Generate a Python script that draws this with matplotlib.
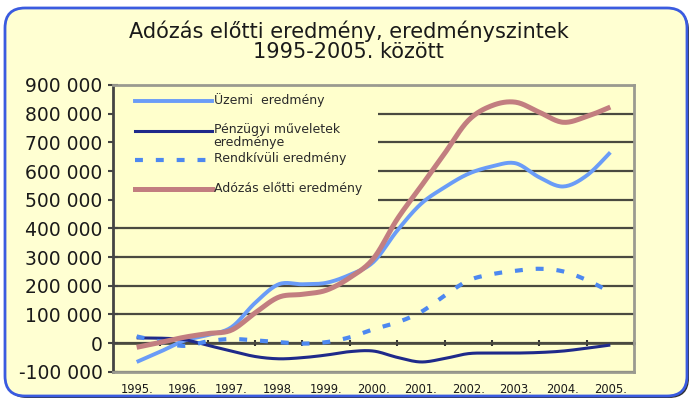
import numpy as np
import matplotlib
matplotlib.use("Agg")
import matplotlib.pyplot as plt
from matplotlib.patches import FancyBboxPatch, Rectangle
from matplotlib.lines import Line2D

# half-year readings, 1995 .. 2005
time = [1995.0, 1995.5, 1996.0, 1996.5, 1997.0, 1997.5, 1998.0, 1998.5, 1999.0, 1999.5, 2000.0,
        2000.5, 2001.0, 2001.5, 2002.0, 2002.5, 2003.0, 2003.5, 2004.0, 2004.5, 2005.0]
uzemi = [-66000, -30000, 8000, 28000, 55000, 140000, 205000, 205000, 210000, 238000, 283000,
         392000, 485000, 543000, 590000, 616000, 627000, 578000, 546000, 584000, 665000]
penzugyi = [18000, 17000, 12000, -8000, -28000, -47000, -55000, -51000, -42000, -30000, -28000,
            -50000, -66000, -54000, -37000, -35000, -35000, -33000, -28000, -18000, -7000]
rendkivuli = [23000, 5000, -10000, 6000, 14000, 9000, 3000, -2000, 3000, 20000, 48000,
              72000, 108000, 165000, 218000, 240000, 252000, 259000, 250000, 220000, 178000]
adozas = [-15000, 2000, 20000, 33000, 45000, 105000, 160000, 170000, 184000, 228000, 295000,
          432000, 546000, 661000, 776000, 828000, 840000, 805000, 770000, 790000, 823000]

years = [1995, 1996, 1997, 1998, 1999, 2000, 2001, 2002, 2003, 2004, 2005]
year_labels = ["1995.", "1996.", "1997.", "1998.", "1999.", "2000.", "2001.", "2002.", "2003.", "2004.", "2005."]
y_ticks = [-100000, 0, 100000, 200000, 300000, 400000, 500000, 600000, 700000, 800000, 900000]
y_labels = ["-100 000", "0", "100 000", "200 000", "300 000", "400 000", "500 000",
            "600 000", "700 000", "800 000", "900 000"]

labels = ["Üzemi  eredmény", "Pénzügyi műveletek\neredménye", "Rendkívüli eredmény", "Adózás előtti eredmény"]


def smooth(xs, ys, n=16):
    # catmull-rom curve, like the smoothed lines in excel
    xs = np.asarray(xs, float)
    ys = np.asarray(ys, float)
    px = np.concatenate([[xs[0]], xs, [xs[-1]]])
    py = np.concatenate([[ys[0]], ys, [ys[-1]]])
    t = np.linspace(0, 1, n, endpoint=False)
    out_x, out_y = [], []
    for i in range(1, len(px) - 2):
        for p, out in ((px, out_x), (py, out_y)):
            p0, p1, p2, p3 = p[i - 1], p[i], p[i + 1], p[i + 2]
            out.extend(0.5 * (2 * p1 + (-p0 + p2) * t + (2 * p0 - 5 * p1 + 4 * p2 - p3) * t ** 2
                              + (-p0 + 3 * p1 - 3 * p2 + p3) * t ** 3))
    out_x.append(xs[-1])
    out_y.append(ys[-1])
    return out_x, out_y


fig = plt.figure(figsize=(6.9, 4.01), dpi=100)
fig.patch.set_facecolor("white")

shadow = FancyBboxPatch((0.07, 0.03), 6.82, 3.88, boxstyle="round,pad=0,rounding_size=0.2",
                        transform=fig.dpi_scale_trans, facecolor="#303030", edgecolor="none", zorder=-2)
box = FancyBboxPatch((0.05, 0.05), 6.82, 3.88, boxstyle="round,pad=0,rounding_size=0.2",
                     transform=fig.dpi_scale_trans, facecolor="#FFFFD2", edgecolor="#3A5BE0", lw=2, zorder=-1)
fig.patches.extend([shadow, box])

fig.text(0.505, 1 - 31.7 / 401, "Adózás előtti eredmény, eredményszintek", ha="center", va="center",
         fontsize=15, color="#1a1a1a")
fig.text(0.505, 1 - 52.5 / 401, "1995-2005. között", ha="center", va="center", fontsize=15, color="#1a1a1a")

ax = fig.add_axes([113 / 690, 29.3 / 401, 521 / 690, 286.7 / 401])
ax.set_facecolor("#FFFFCC")
ax.set_xlim(1994.5, 2005.5)
ax.set_ylim(-100000, 900000)

ax.set_yticks(y_ticks)
ax.set_yticklabels(y_labels, fontsize=13.5, color="#1a1a1a")
ax.tick_params(axis="y", direction="inout", length=7, width=1.5, color="#444444", pad=4)
ax.set_xticks(years)
ax.set_xticklabels(year_labels, fontsize=8.3, color="#1a1a1a")
ax.tick_params(axis="x", length=0, pad=8)

ax.set_axisbelow(True)
ax.grid(axis="y", color="#4a4a40", lw=1.6)
ax.spines["left"].set_color("#444444")
ax.spines["left"].set_linewidth(2)
for side in ("top", "right", "bottom"):
    ax.spines[side].set_color("#9a9a90")
    ax.spines[side].set_linewidth(2)

# zero line with category ticks
zero_axis = ax.secondary_xaxis(0.1)
zero_axis.set_xticks([y + 0.5 for y in years[:-1]] + [2005.5])
zero_axis.set_xticklabels([])
zero_axis.tick_params(direction="inout", length=5, width=1.5, color="#333333")
zero_axis.spines["bottom"].set_color("#3a3a30")
zero_axis.spines["bottom"].set_linewidth(1.8)

# legend area hides the grid
ax.add_patch(Rectangle((0, 0.56), 0.508, 0.44, transform=ax.transAxes, facecolor="#FFFFCC",
                       edgecolor="none", zorder=1))

styles = [
    dict(color="#6A9CF7", lw=2.8),
    dict(color="#1F2A8A", lw=2.2),
    dict(color="#4D88F0", lw=3, dashes=(1.9, 3.1)),
    dict(color="#C27E80", lw=3.6),
]
series = [uzemi, penzugyi, rendkivuli, adozas]

for values, style in zip(series, styles):
    sx, sy = smooth(time, values)
    ax.plot(sx, sy, zorder=3, solid_capstyle="butt", **style)

# legend drawn by hand: handles on the left, text after
rows = [0.945, 0.8395, 0.738, 0.637]
for row, label, style in zip(rows, labels, styles):
    ax.add_line(Line2D([0.042, 0.19], [row, row], transform=ax.transAxes, zorder=3, **style))
    if "\n" in label:
        ax.text(0.193, row + 0.028, label, transform=ax.transAxes, fontsize=9, color="#2a2a2a",
                va="top", linespacing=1.0)
    else:
        ax.text(0.193, row + 0.004, label, transform=ax.transAxes, fontsize=9, color="#2a2a2a",
                va="center")

fig.savefig("out.png", dpi=100)
